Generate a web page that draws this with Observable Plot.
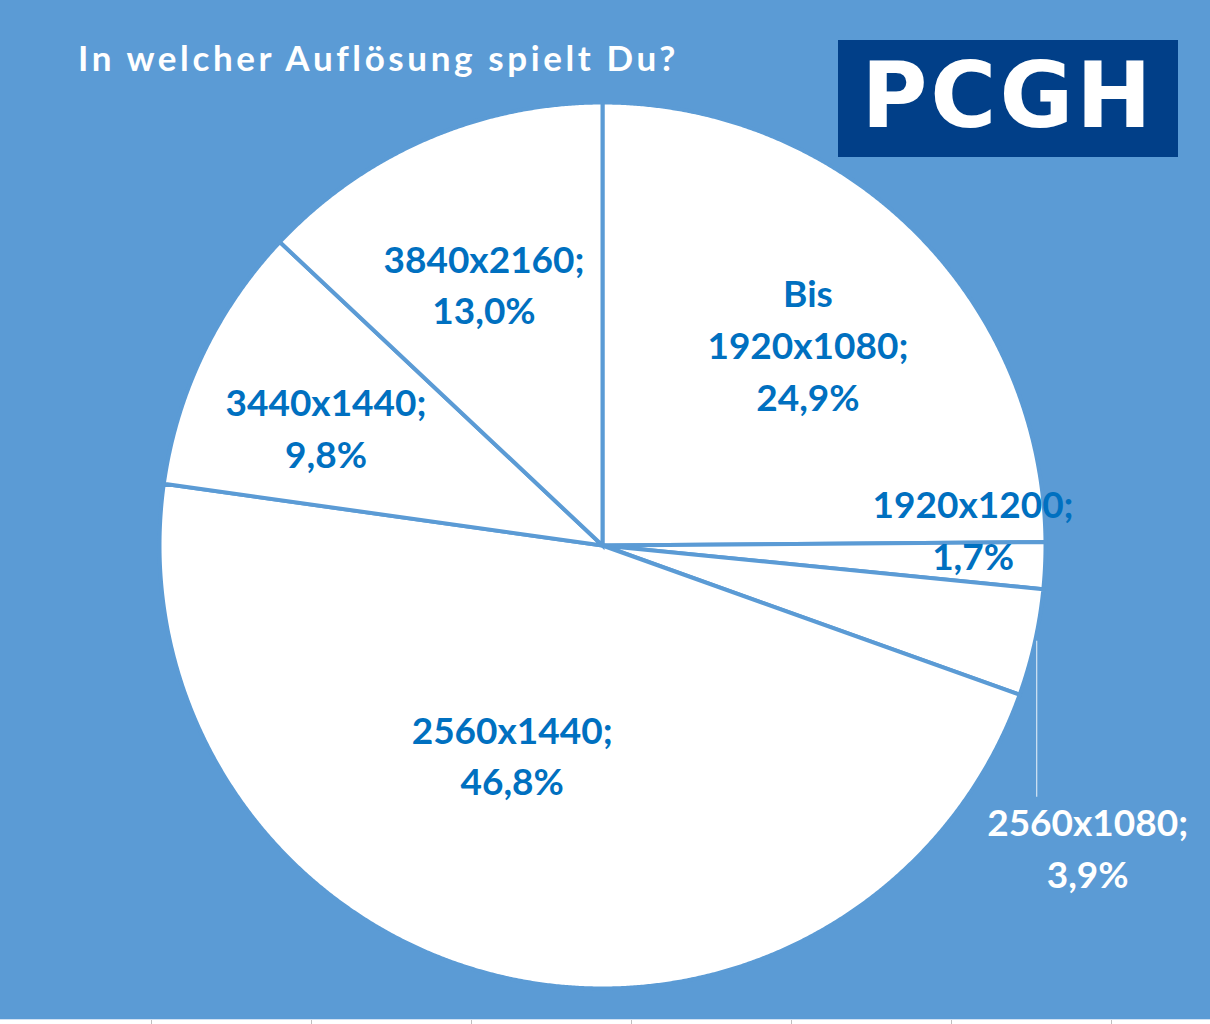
<!DOCTYPE html>
<html><head><meta charset="utf-8">
<script src="https://cdn.jsdelivr.net/npm/d3@7"></script>
<script src="https://cdn.jsdelivr.net/npm/@observablehq/plot@0.6"></script>
<style>
html,body{margin:0;padding:0;background:#5b9bd5;}
#wrap{position:relative;width:1210px;height:1024px;overflow:hidden;background:#5b9bd5;}
#chart{position:absolute;left:0;top:0;}
#title{position:absolute;left:78px;top:36px;color:#fff;font-family:Lato,sans-serif;font-weight:bold;font-size:35px;letter-spacing:3.6px;white-space:nowrap;}
#logo{position:absolute;left:838px;top:40px;width:340px;height:117px;background:#013f88;color:#fff;font-family:"DejaVu Sans",sans-serif;font-weight:bold;font-size:90px;line-height:112px;text-align:center;letter-spacing:3px;}
#strip{position:absolute;left:0;top:1019px;width:1210px;height:5px;background-color:#fff;border-top:1px solid #cfe0f2;box-sizing:border-box;
  background-image:linear-gradient(to right,#bfbfbf 1px,transparent 1px);background-size:160px 100%;background-position:151px 0;background-repeat:repeat-x;}
</style></head>
<body>
<div id="wrap">
  <div id="chart"></div>
  <div id="title">In welcher Auflösung spielt Du?</div>
  <div id="logo">PCGH</div>
  <div id="strip"></div>
</div>
<script>
// ---- data ----
const categories = ["Bis\n1920x1080", "1920x1200", "2560x1080", "2560x1440", "3440x1440", "3840x2160"];
const shares = [24.9, 1.7, 3.9, 46.8, 9.8, 13.0];
const valueLabels = ["24,9%", "1,7%", "3,9%", "46,8%", "9,8%", "13,0%"];

// ---- layout / style (not data) ----
const BG = "#5b9bd5";
const LABEL = "#0070c0";
const R = 443;                       // pie radius in pixel units
const labelRadius = [286, 370, R, 227, 300, 286];
const labelNudgeX = [4, 1, 53, -36, -6, -5];
const labelNudgeY = [0, 35, -53, 13, -10, 1];
const labelOutside = [false, false, true, false, false, false];
const leaderDrop = 150;

const rows = categories.map((c, i) => ({category: c, share: shares[i], value: valueLabels[i], i}));
const arcs = d3.pie().sort(null).value(d => d.share)(rows);

// slice outlines from the pie angles
const pts = [];
for (const a of arcs) {
  pts.push({slice: a.data.category, x: 0, y: 0});
  const n = Math.max(2, Math.ceil((a.endAngle - a.startAngle) / 0.004));
  for (let k = 0; k <= n; k++) {
    const t = a.startAngle + (a.endAngle - a.startAngle) * k / n;
    pts.push({slice: a.data.category, x: R * Math.sin(t), y: R * Math.cos(t)});
  }
}

const labels = arcs.map(a => {
  const i = a.data.i;
  const mid = (a.startAngle + a.endAngle) / 2;
  const r = labelRadius[i];
  let x = r * Math.sin(mid), y = r * Math.cos(mid);
  return {
    text: a.data.category + ";\n" + a.data.value,
    x0: x, y0: y,
    x: x + labelNudgeX[i],
    y: y + labelNudgeY[i] - (labelOutside[i] ? leaderDrop : 0),
    outside: labelOutside[i]
  };
});
const leaders = labels.filter(d => d.outside).map(d => ({x1: d.x0 + 2, y1: d.y0 + 2, x2: d.x0 + 2, y2: d.y0 + 2 - leaderDrop - 6}));

const W = 1210, H = 1019, CX = 602, CY = 545;
const plot = Plot.plot({
  width: W, height: H,
  margin: 0,
  x: {domain: [-CX, W - CX], axis: null},
  y: {domain: [-(H - CY), CY], axis: null},
  style: {background: "transparent", overflow: "visible"},
  marks: [
    Plot.line(pts, {x: "x", y: "y", z: "slice", curve: "linear-closed", fill: "white", stroke: BG, strokeWidth: 4, strokeLinejoin: "miter", strokeMiterlimit: 4}),
    Plot.link(leaders, {x1: "x1", y1: "y1", x2: "x2", y2: "y2", stroke: "white", strokeOpacity: 0.75, strokeWidth: 1.2}),
    Plot.text(labels, {x: "x", y: "y", text: "text", fill: d => d.outside ? "white" : LABEL,
      fontSize: 37, fontWeight: "bold", fontFamily: "Lato, sans-serif", lineHeight: 1.4, textAnchor: "middle"})
  ]
});
document.getElementById("chart").appendChild(plot);
</script>
</body></html>
